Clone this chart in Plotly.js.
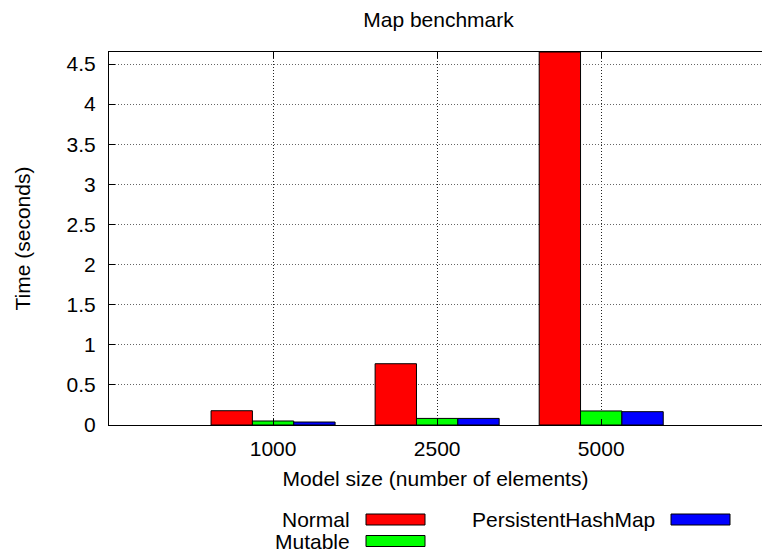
<!DOCTYPE html>
<html><head><meta charset="utf-8">
<script src="https://cdn.plot.ly/plotly-3.0.1.min.js"></script>
<style>html,body{margin:0;padding:0;background:#fff}</style>
</head><body><div id="chart" style="width:762px;height:554px"></div>
<script>
// ---- data ----
const categories = ['1000', '2500', '5000'];
const seriesNames = ['Normal', 'Mutable', 'PersistentHashMap'];
const normalTimes = [0.178, 0.764, 4.65];
const mutableTimes = [0.05, 0.082, 0.175];
const persistentTimes = [0.037, 0.082, 0.166];
const yTickValues = [0, 0.5, 1, 1.5, 2, 2.5, 3, 3.5, 4, 4.5];
const yTickLabels = ['0', '0.5', '1', '1.5', '2', '2.5', '3', '3.5', '4', '4.5'];
const chartTitle = 'Map benchmark';
const xTitle = 'Model size (number of elements)';
const yTitle = 'Time (seconds)';

// ---- style ----
const seriesValues = [normalTimes, mutableTimes, persistentTimes];
const seriesColors = ['#ff0000', '#00ff00', '#0000ff'];
const FONT = 'Liberation Sans, Arial, Helvetica, sans-serif';
const FS = 21;

const traces = seriesNames.map((name, i) => ({
  type: 'bar',
  name: name,
  x: categories,
  y: seriesValues[i],
  marker: {color: seriesColors[i], line: {color: '#000', width: 1}},
  showlegend: false,
  cliponaxis: true
}));

// custom gnuplot-style legend (text left of a wide sample box), offsets in px from plot bottom-left
const legendSlots = [
  {textRight: 243, boxLeft: 257, cy: -94.5},
  {textRight: 243, boxLeft: 257, cy: -116},
  {textRight: 548, boxLeft: 562, cy: -94.5}
];
const shapes = [];
const annotations = [];
seriesNames.forEach((name, i) => {
  const s = legendSlots[i];
  shapes.push({
    type: 'rect', xref: 'paper', yref: 'paper',
    xsizemode: 'pixel', ysizemode: 'pixel', xanchor: 0, yanchor: 0,
    x0: s.boxLeft, x1: s.boxLeft + 59, y0: s.cy - 5.5, y1: s.cy + 5.5,
    fillcolor: seriesColors[i], line: {color: '#000', width: 1}
  });
  annotations.push({
    xref: 'paper', yref: 'paper', x: 0, y: 0, xshift: s.textRight, yshift: s.cy,
    xanchor: 'right', yanchor: 'middle', showarrow: false, text: name,
    font: {family: FONT, size: FS, color: '#000'}
  });
});

const layout = {
  width: 762, height: 554,
  margin: {l: 109, r: 0, t: 52, b: 129},
  paper_bgcolor: '#fff', plot_bgcolor: '#fff',
  font: {family: FONT, size: FS, color: '#000'},
  title: {text: chartTitle, font: {family: FONT, size: FS, color: '#000'},
          xref: 'container', x: 438.5 / 762, xanchor: 'center',
          yref: 'container', y: 1 - 19.5 / 554, yanchor: 'middle'},
  barmode: 'group', bargap: 0.244, bargroupgap: 0,
  xaxis: {
    type: 'category', range: [-1, 2.98],
    showline: true, linecolor: '#000', linewidth: 1, mirror: 'ticks',
    ticks: 'inside', ticklen: 6, tickcolor: '#000',
    showgrid: true, gridcolor: '#222', griddash: '1px,2px', gridwidth: 1,
    zeroline: false, ticklabelstandoff: 5,
    title: {text: xTitle, font: {family: FONT, size: FS}, standoff: 12},
    automargin: false
  },
  yaxis: {
    range: [0, 4.65], tickvals: yTickValues, ticktext: yTickLabels,
    showline: true, linecolor: '#000', linewidth: 1, mirror: false,
    ticks: 'inside', ticklen: 6, tickcolor: '#000',
    showgrid: true, gridcolor: '#666', griddash: '1px,2px', gridwidth: 1,
    zeroline: false, ticklabelstandoff: 8,
    title: {text: yTitle, font: {family: FONT, size: FS}, standoff: 30},
    automargin: false
  },
  shapes: shapes,
  annotations: annotations
};

Plotly.newPlot('chart', traces, layout, {staticPlot: true, displayModeBar: false});
</script>
</body></html>
